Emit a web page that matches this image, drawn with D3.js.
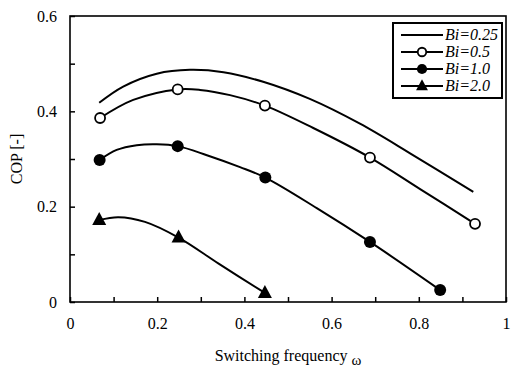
<!DOCTYPE html>
<html>
<head>
<meta charset="utf-8">
<script src="https://cdn.jsdelivr.net/npm/d3@7"></script>
<style>
  body { margin: 0; background: #fff; }
  svg { font-family: "Liberation Serif", "Times New Roman", serif; }
</style>
</head>
<body>
<div id="chart"></div>
<script>
// values
// marker points
var bi05X = [0.069, 0.247, 0.447, 0.688, 0.929];
var bi05Y = [0.386, 0.446, 0.412, 0.303, 0.164];

var bi10X = [0.068, 0.247, 0.448, 0.688, 0.849];
var bi10Y = [0.298, 0.327, 0.261, 0.126, 0.025];

var bi20X = [0.067, 0.249, 0.447];
var bi20Y = [0.172, 0.135, 0.019];

// traced smooth curves
var bi025CurveX = [0.067, 0.122, 0.199, 0.275, 0.352, 0.443, 0.550, 0.665, 0.780, 0.925];
var bi025CurveY = [0.418, 0.452, 0.479, 0.487, 0.482, 0.462, 0.426, 0.374, 0.312, 0.231];

var bi05CurveX = [0.069, 0.145, 0.247, 0.298, 0.367, 0.447, 0.558, 0.688, 0.803, 0.929];
var bi05CurveY = [0.386, 0.424, 0.446, 0.445, 0.434, 0.412, 0.365, 0.303, 0.237, 0.164];

var bi10CurveX = [0.068, 0.107, 0.153, 0.199, 0.247, 0.314, 0.390, 0.448, 0.566, 0.688, 0.849];
var bi10CurveY = [0.298, 0.319, 0.329, 0.331, 0.327, 0.308, 0.283, 0.261, 0.197, 0.126, 0.025];

var bi20CurveX = [0.067, 0.111, 0.172, 0.249, 0.340, 0.447];
var bi20CurveY = [0.172, 0.178, 0.168, 0.135, 0.081, 0.019];

var seriesNames = ["Bi=0.25", "Bi=0.5", "Bi=1.0", "Bi=2.0"];
var xTicks = [0, 0.1, 0.2, 0.3, 0.4, 0.5, 0.6, 0.7, 0.8, 0.9, 1];
var xTickLabels = ["0", "", "0.2", "", "0.4", "", "0.6", "", "0.8", "", "1"];
var yTicks = [0, 0.1, 0.2, 0.3, 0.4, 0.5, 0.6];
var yTickLabels = ["0", "", "0.2", "", "0.4", "", "0.6"];

var width = 516, height = 377;
var margin = { top: 16, right: 10, bottom: 75, left: 70 };

var svg = d3.select("#chart").append("svg")
    .attr("width", width)
    .attr("height", height);

var x = d3.scaleLinear().domain([0, 1]).range([margin.left, width - margin.right]);
var y = d3.scaleLinear().domain([0, 0.6]).range([height - margin.bottom, margin.top]);

function zipPts(xs, ys) {
    return xs.map(function(v, i) { return [v, ys[i]]; });
}

var series = [
    { name: seriesNames[0], curve: zipPts(bi025CurveX, bi025CurveY), pts: [], marker: "none" },
    { name: seriesNames[1], curve: zipPts(bi05CurveX, bi05CurveY), pts: zipPts(bi05X, bi05Y), marker: "open" },
    { name: seriesNames[2], curve: zipPts(bi10CurveX, bi10CurveY), pts: zipPts(bi10X, bi10Y), marker: "filled" },
    { name: seriesNames[3], curve: zipPts(bi20CurveX, bi20CurveY), pts: zipPts(bi20X, bi20Y), marker: "triangle" }
];

// axes, ticks pointing inward
var xAxis = svg.append("g")
    .attr("transform", "translate(0," + y(0) + ")")
    .call(d3.axisBottom(x).tickValues(xTicks)
        .tickFormat(function(d, i) { return xTickLabels[i]; })
        .tickSizeInner(-5).tickSizeOuter(0).tickPadding(16));

var yAxis = svg.append("g")
    .attr("transform", "translate(" + x(0) + ",0)")
    .call(d3.axisLeft(y).tickValues(yTicks)
        .tickFormat(function(d, i) { return yTickLabels[i]; })
        .tickSizeInner(-5).tickSizeOuter(0).tickPadding(13));

[xAxis, yAxis].forEach(function(a) {
    a.select(".domain").remove();
    a.selectAll(".tick line").attr("stroke", "#000").attr("stroke-width", 1.5);
    a.selectAll(".tick text")
        .attr("font-family", "Liberation Serif, serif")
        .attr("font-size", 16)
        .attr("fill", "#000");
});

// frame
svg.append("rect")
    .attr("x", x(0))
    .attr("y", y(0.6))
    .attr("width", x(1) - x(0))
    .attr("height", y(0) - y(0.6))
    .attr("fill", "none")
    .attr("stroke", "#000")
    .attr("stroke-width", 1.6);

var line = d3.line()
    .x(function(d) { return x(d[0]); })
    .y(function(d) { return y(d[1]); })
    .curve(d3.curveCatmullRom.alpha(0.5));

svg.selectAll(".series-line")
    .data(series)
    .enter().append("path")
    .attr("class", "series-line")
    .attr("d", function(s) { return line(s.curve); })
    .attr("fill", "none")
    .attr("stroke", "#000")
    .attr("stroke-width", 2);

function drawMarker(g, type, cx, cy, scale) {
    scale = scale || 1;
    if (type === "open") {
        g.append("circle").attr("cx", cx).attr("cy", cy).attr("r", 5 * scale)
            .attr("fill", "#fff").attr("stroke", "#000").attr("stroke-width", 1.8);
    } else if (type === "filled") {
        g.append("circle").attr("cx", cx).attr("cy", cy).attr("r", 6 * scale)
            .attr("fill", "#000");
    } else if (type === "triangle") {
        var h = 13 * scale, w = 14 * scale;
        g.append("path")
            .attr("d", "M" + cx + "," + (cy - h * 0.62) +
                "L" + (cx + w / 2) + "," + (cy + h * 0.38) +
                "L" + (cx - w / 2) + "," + (cy + h * 0.38) + "Z")
            .attr("fill", "#000");
    }
}

var markers = svg.append("g");
series.forEach(function(s) {
    s.pts.forEach(function(p) { drawMarker(markers, s.marker, x(p[0]), y(p[1])); });
});

// legend
var legend = svg.append("g");
legend.append("rect")
    .attr("x", 393).attr("y", 23)
    .attr("width", 109).attr("height", 75)
    .attr("fill", "#fff")
    .attr("stroke", "#000")
    .attr("stroke-width", 2);

series.forEach(function(s, i) {
    var ly = 35 + i * 17;
    legend.append("line")
        .attr("x1", 401).attr("x2", 443)
        .attr("y1", ly).attr("y2", ly)
        .attr("stroke", "#000").attr("stroke-width", 2);
    drawMarker(legend, s.marker, 422, ly, 0.85);
    legend.append("text")
        .attr("x", 445).attr("y", ly + 5)
        .attr("font-size", 16)
        .attr("font-style", "italic")
        .text(s.name);
});

// axis titles
var xTitle = svg.append("text")
    .attr("x", (x(0) + x(1)) / 2)
    .attr("y", 361)
    .attr("text-anchor", "middle")
    .attr("font-size", 16);
xTitle.append("tspan").text("Switching frequency ");
xTitle.append("tspan").attr("dy", 4).attr("font-size", 15).text("\u03c9");

svg.append("text")
    .attr("transform", "translate(22," + ((y(0) + y(0.6)) / 2) + ") rotate(-90)")
    .attr("text-anchor", "middle")
    .attr("font-size", 16)
    .text("COP [-]");
</script>
</body>
</html>
